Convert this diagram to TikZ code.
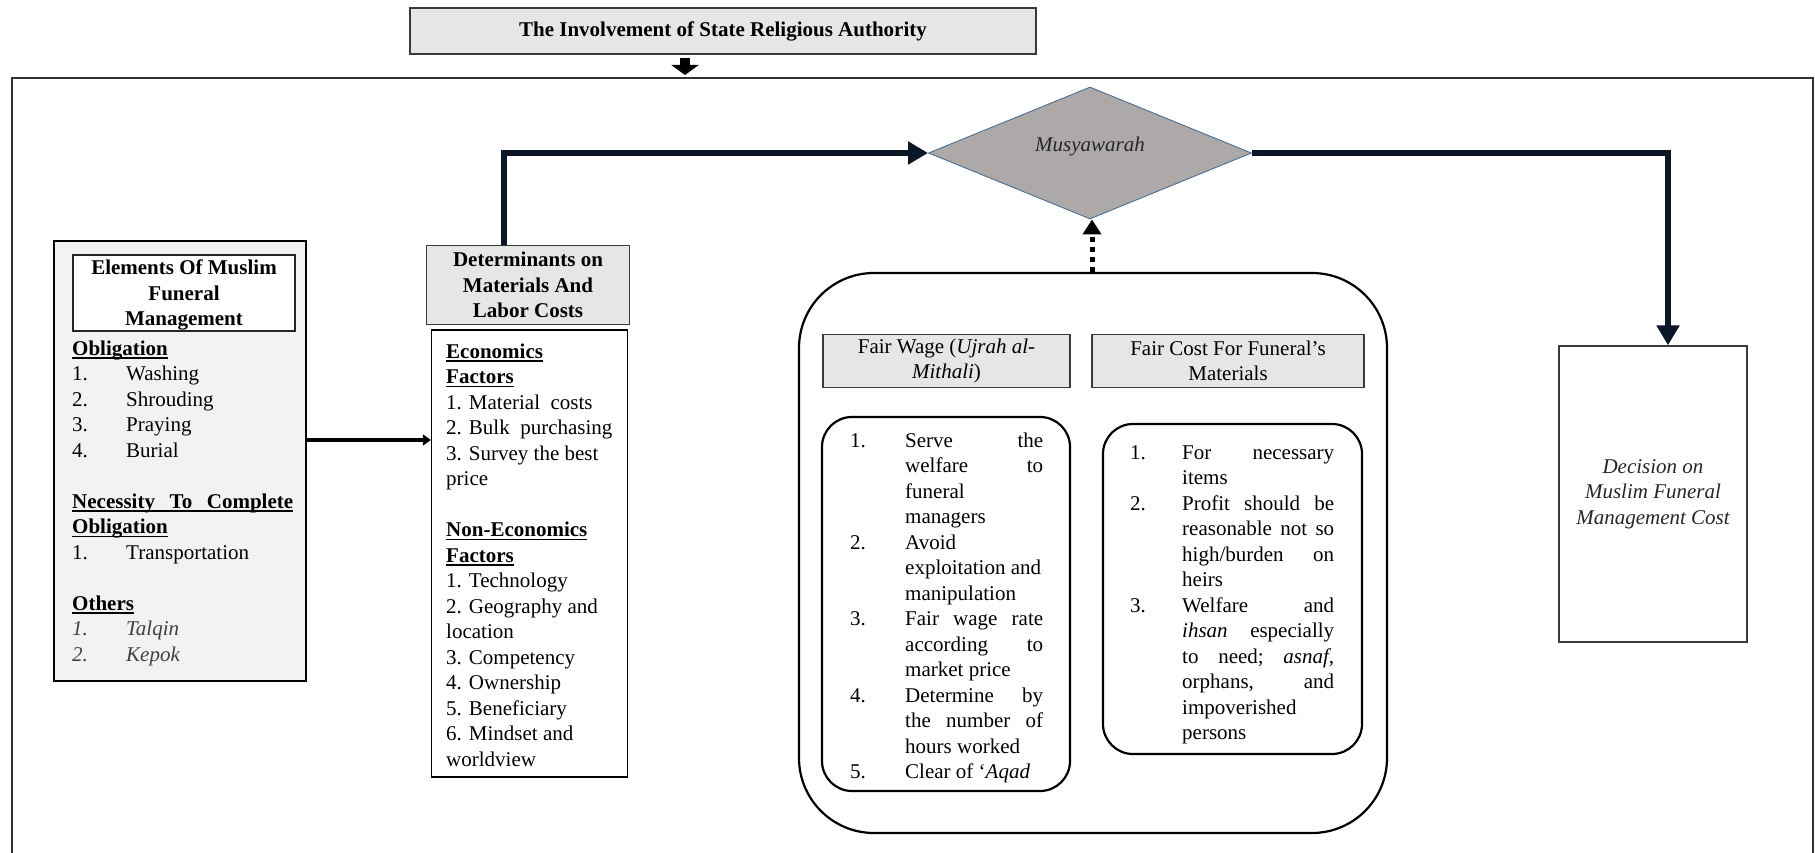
\documentclass[tikz,border=0pt]{standalone}
\usepackage{fontspec}
\setmainfont{Liberation Serif}
\usetikzlibrary{arrows.meta,shapes.geometric}
\definecolor{hdrgray}{HTML}{E7E6E6}
\definecolor{elemgray}{HTML}{F2F2F2}
\definecolor{diagray}{HTML}{ADA9A9}
\definecolor{diaedge}{HTML}{4A6F94}
\definecolor{navy}{HTML}{0B1626}
\definecolor{boxedge}{HTML}{3A3A3A}
\newcommand\basefont{\fontsize{21}{25.5}\selectfont}
\newcommand\myul[1]{\setbox0\hbox{#1}\rlap{\rule[-3.5pt]{\wd0}{1.3pt}}\box0}
\begin{document}
\begin{tikzpicture}[x=1pt,y=-1pt,font=\basefont,
  hdr/.style={draw=boxedge, fill=hdrgray, line width=1.3pt, inner sep=0pt, align=center},
  plainbox/.style={draw=boxedge, line width=1.3pt, inner sep=0pt},
  roundbox/.style={draw=black, line width=2.2pt, inner sep=0pt},
  txt/.style={anchor=base west, inner sep=0pt},
  bigarrow/.style={draw=navy, line width=6pt, -{Triangle[width=22pt,length=20pt]}},
  smallarrow/.style={draw=black, line width=4pt, -{Triangle[width=11pt,length=8pt]}},
  toparrow/.style={draw=black, line width=10pt, -{Triangle[width=27pt,length=10pt]}},
  dotarrow/.style={draw=black, line width=5pt, dash pattern=on 5pt off 5pt, -{Triangle[width=18pt,length=15pt]}}
]
\useasboundingbox (0,0) rectangle (1815,853);

% outer frame
\draw[black!80, line width=1.3pt] (12,870) -- (12,78) -- (1813,78) -- (1813,870);
\coordinate (ftop) at (685,75);

% title
\node[hdr, minimum width=626pt, minimum height=46pt, font=\basefont\bfseries] (title) at (723,31)
  {The Involvement of State Religious Authority};

% diamond
\node[diamond, draw=diaedge, fill=diagray, line width=0.9pt, inner sep=0pt,
      minimum width=323pt, minimum height=132pt] (musy) at (1090,153) {};
\node[inner sep=0pt, font=\basefont\itshape, text=black!85] (musytext) at ([yshift=7pt]musy.center) {Musyawarah};

% elements box
\node[draw=black, fill=elemgray, line width=2.8pt, inner sep=0pt,
      minimum width=252pt, minimum height=440pt] (elem) at (180,461) {};
\node[draw=black!85, fill=white, line width=1.2pt, inner sep=0pt, align=center, text depth=-3.5pt,
      minimum width=222pt, minimum height=76pt, font=\basefont\bfseries] (elemtitle) at (184,293)
  {Elements Of Muslim\\Funeral\\Management};
\node[txt] (elemlist) at (72,355) {%
\begin{tabular}[t]{@{}p{54pt}@{}l@{}}
\multicolumn{2}{@{}l@{}}{\myul{\textbf{Obligation}}}\\
1. & Washing\\
2. & Shrouding\\
3. & Praying\\
4. & Burial\\
 & \\
\multicolumn{2}{@{}l@{}}{\myul{\makebox[221pt][s]{\textbf{Necessity To Complete}}}}\\
\multicolumn{2}{@{}l@{}}{\myul{\textbf{Obligation}}}\\
1. & Transportation\\
 & \\
\multicolumn{2}{@{}l@{}}{\myul{\textbf{Others}}}\\
\textcolor{black!75}{\textit{1.}} & \textcolor{black!75}{\textit{Talqin}}\\
\textcolor{black!75}{\textit{2.}} & \textcolor{black!75}{\textit{Kepok}}
\end{tabular}};

% determinants
\node[hdr, minimum width=203pt, minimum height=79pt, text depth=-6pt, font=\basefont\bfseries] (det) at (528,285)
  {Determinants on\\Materials And\\Labor Costs};
\node[plainbox, draw=black, minimum width=196pt, minimum height=447pt] (detlist) at (529.5,553.5) {};
\node[txt] (dettext) at (446,358) {%
\begin{tabular}[t]{@{}l@{}}
\myul{\textbf{Economics}}\\
\myul{\textbf{Factors}}\\
1. Material\ \ costs\\
2. Bulk\ \ purchasing\\
3. Survey the best\\
price\\
\\
\myul{\textbf{Non-Economics}}\\
\myul{\textbf{Factors}}\\
1. Technology\\
2. Geography and\\
location\\
3. Competency\\
4. Ownership\\
5. Beneficiary\\
6. Mindset and\\
worldview
\end{tabular}};

% big rounded box
\node[roundbox, rounded corners=75pt, minimum width=588pt, minimum height=560pt] (fair) at (1093,553) {};
\node[hdr, minimum width=247pt, minimum height=53pt] (fwh) at (946.5,361)
  {Fair Wage (\textit{Ujrah al-}\\\textit{Mithali})};
\node[hdr, minimum width=272pt, minimum height=53pt] (fch) at (1228,361)
  {Fair Cost For Funeral’s\\Materials};

\node[roundbox, rounded corners=30pt, minimum width=248pt, minimum height=374pt] (fwl) at (946,604) {};
\node[txt] (fwtext) at (850,447) {%
\begin{tabular}[t]{@{}p{55pt}@{}p{138pt}@{}}
1. & Serve\hfill the\\
 & welfare\hfill to\\
 & funeral\\
 & managers\\
2. & Avoid\\
 & exploitation and\\
 & manipulation\\
3. & Fair\hfill wage\hfill rate\\
 & according\hfill to\\
 & market price\\
4. & Determine\hfill by\\
 & the\hfill number\hfill of\\
 & hours worked\\
5. & Clear of ‘\textit{Aqad}
\end{tabular}};

\node[roundbox, rounded corners=30pt, minimum width=259pt, minimum height=330pt] (fcl) at (1232.5,589) {};
\node[txt] (fctext) at (1130,459) {%
\begin{tabular}[t]{@{}p{52pt}@{}p{152pt}@{}}
1. & For\hfill necessary\\
 & items\\
2. & Profit\hfill should\hfill be\\
 & reasonable\hfill not\hfill so\\
 & high/burden\hfill on\\
 & heirs\\
3. & Welfare\hfill and\\
 & \textit{ihsan}\hfill especially\\
 & to\hfill need;\hfill \textit{asnaf},\\
 & orphans,\hfill and\\
 & impoverished\\
 & persons
\end{tabular}};

% decision
\node[plainbox, minimum width=188pt, minimum height=296pt, align=center,
      font=\basefont\itshape, text=black!85] (dec) at (1653,494)
  {Decision on\\Muslim Funeral\\Management Cost};

% connectors
\draw[toparrow] ([yshift=-3pt]title.south -| ftop) -- (ftop);
\draw[smallarrow] ([yshift=21pt]elem.east) -- ([yshift=21pt]elem.east -| detlist.west);
\draw[bigarrow] ([xshift=-24pt]det.north) |- (musy.west);
\draw[bigarrow] (musy.east) -| ([xshift=15pt]dec.north);
\draw[dotarrow] ([xshift=-1pt]fair.north) -- ([xshift=-1pt]fair.north |- musy.south);
\end{tikzpicture}
\end{document}
